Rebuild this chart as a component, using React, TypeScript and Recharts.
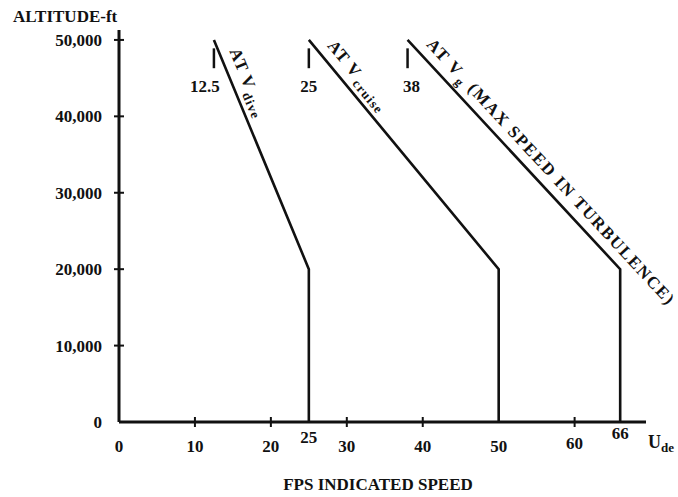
import React from 'react';
import { LineChart, Line, XAxis, YAxis, ReferenceLine, ReferenceDot, Label } from 'recharts';

const altitudeFt = [0, 20000, 50000];
const diveFps = [25, 25, 12.5];
const cruiseFps = [50, 50, 25];
const gustFps = [66, 66, 38];

const yTicks = [0, 10000, 20000, 30000, 40000, 50000];
const xTicks = [0, 10, 20, 25, 30, 40, 50, 60, 66];
const topMarks = [12.5, 25, 38];
const topMarkLabels = ['12.5', '25', '38'];

const FONT = '"Liberation Serif", "Times New Roman", serif';
const INK = '#111';

const toSeries = (fps: number[]) => altitudeFt.map((alt, i) => ({ fps: fps[i], alt }));

// label nudges, px
const xLabelDrop: Record<number, number> = { 25: 21, 60: 27, 66: 17 };
const topLabelShift = [-9, 0, 4];

const YTick = (props: any) => {
  const { x, y, payload } = props;
  return (
    <g>
      {payload.value > 0 && <line x1={x - 5} x2={x + 5} y1={y} y2={y} stroke={INK} strokeWidth={2} />}
      <text x={x - 17} y={y + 6} textAnchor="end" fontFamily={FONT} fontWeight="bold" fontSize={17} fill={INK}>
        {payload.value.toLocaleString('en-US')}
      </text>
    </g>
  );
};

const XTick = (props: any) => {
  const { x, y, payload } = props;
  const v = payload.value;
  const cross = ![0, 25, 50, 66].includes(v);
  return (
    <g>
      {cross && <line x1={x} x2={x} y1={y - 5} y2={y + 5} stroke={INK} strokeWidth={2} />}
      <text x={x} y={y + (xLabelDrop[v] ?? 30)} textAnchor="middle" fontFamily={FONT} fontWeight="bold" fontSize={17} fill={INK}>
        {v}
      </text>
    </g>
  );
};

const slopeLabel = (sub: string, rest: string, angle: number, spacing: number) => (props: any) => {
  const { viewBox } = props;
  const x = viewBox.x + (viewBox.width || 0) / 2;
  const y = viewBox.y + (viewBox.height || 0) / 2;
  return (
    <g transform={`translate(${x},${y}) rotate(${angle})`}>
      <text x={16} y={-10} fontFamily={FONT} fontWeight="bold" fontSize={17} fill={INK} letterSpacing={spacing}>
        AT V
        <tspan fontSize={13} dy={5} dx={2}>{sub}</tspan>
        {rest && <tspan dy={-5} fontSize={17}>{rest}</tspan>}
      </text>
    </g>
  );
};

const topMarkLabel = (i: number) => (props: any) => {
  const { viewBox } = props;
  const x = viewBox.x + (viewBox.width || 0) / 2;
  const y = viewBox.y + (viewBox.height || 0) / 2;
  return (
    <text x={x + topLabelShift[i]} y={y + 24} textAnchor="middle" fontFamily={FONT} fontWeight="bold" fontSize={17} fill={INK}>
      {topMarkLabels[i]}
    </text>
  );
};

const AxisTitles = (props: any) => {
  const { viewBox } = props;
  return (
    <g fontFamily={FONT} fontWeight="bold" fill={INK}>
      <text x={viewBox.x + 529} y={viewBox.y + 26} fontSize={18}>
        U<tspan fontSize={13} dy={4}>de</tspan>
      </text>
      <text x={378} y={490} textAnchor="middle" fontSize={17}>FPS INDICATED SPEED</text>
    </g>
  );
};

const YTitle = () => (
  <text x={13} y={22} fontFamily={FONT} fontWeight="bold" fontSize={17} fill={INK}>ALTITUDE-ft</text>
);

export default function App() {
  return (
    <div style={{ position: 'absolute', left: 0, top: 0, background: '#fff' }}>
      <LineChart width={678} height={497} margin={{ top: 30, right: 32, bottom: 0, left: 0 }}>
        <XAxis
          type="number"
          dataKey="fps"
          domain={[0, 69.4]}
          ticks={xTicks}
          interval={0}
          tick={<XTick />}
          tickLine={false}
          tickSize={0}
          tickMargin={0}
          height={75}
          axisLine={{ stroke: INK, strokeWidth: 3 }}
          allowDataOverflow
        >
          <Label content={<AxisTitles />} />
        </XAxis>
        <YAxis
          type="number"
          dataKey="alt"
          domain={[0, 51300]}
          ticks={yTicks}
          interval={0}
          tick={<YTick />}
          tickLine={false}
          tickSize={0}
          tickMargin={0}
          width={119}
          axisLine={{ stroke: INK, strokeWidth: 3 }}
          allowDataOverflow
        >
          <Label content={<YTitle />} />
        </YAxis>

        <Line data={toSeries(diveFps)} dataKey="alt" type="linear" stroke={INK} strokeWidth={2.6} dot={false} isAnimationActive={false} />
        <Line data={toSeries(cruiseFps)} dataKey="alt" type="linear" stroke={INK} strokeWidth={2.6} dot={false} isAnimationActive={false} />
        <Line data={toSeries(gustFps)} dataKey="alt" type="linear" stroke={INK} strokeWidth={2.6} dot={false} isAnimationActive={false} />

        {topMarks.map((m) => (
          <ReferenceLine key={`m${m}`} segment={[{ x: m, y: 48900 }, { x: m, y: 46300 }]} stroke={INK} strokeWidth={2.5} />
        ))}
        {topMarks.map((m, i) => (
          <ReferenceDot key={`t${m}`} x={m} y={46300} r={0} stroke="none" fill="none" label={topMarkLabel(i)} />
        ))}

        <ReferenceDot x={diveFps[2]} y={altitudeFt[2]} r={0} stroke="none" fill="none" label={slopeLabel('dive', '', 67.5, 1.2)} />
        <ReferenceDot x={cruiseFps[2]} y={altitudeFt[2]} r={0} stroke="none" fill="none" label={slopeLabel('cruise', '', 50.4, 1.2)} />
        <ReferenceDot x={gustFps[2]} y={altitudeFt[2]} r={0} stroke="none" fill="none" label={slopeLabel('g', ' (MAX SPEED IN TURBULENCE)', 47.2, 1.6)} />
      </LineChart>
    </div>
  );
}
